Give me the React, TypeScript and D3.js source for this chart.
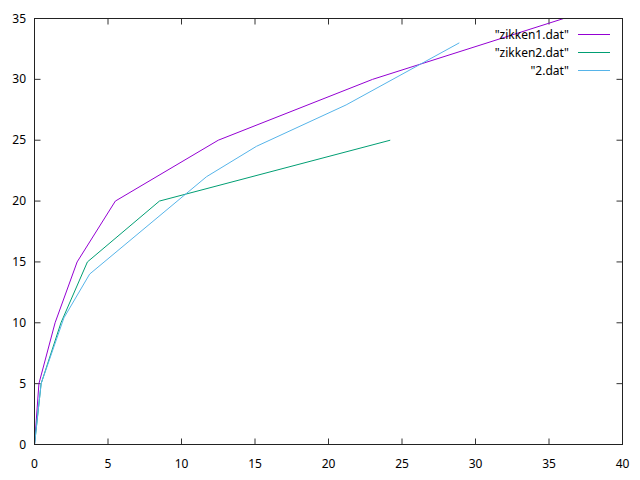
import React from "react";
import * as d3 from "d3";

const zikken1X = [0, 0.3, 1.4, 2.9, 5.5, 12.5, 23.0, 36.0];
const zikken1Y = [0, 5, 10, 15, 20, 25, 30, 35];
const zikken2X = [0, 0.45, 1.8, 3.6, 8.5, 24.2];
const zikken2Y = [0, 5, 10, 15, 20, 25];
const dat2X = [0, 0.45, 2.0, 3.75, 11.7, 15.1, 21.2, 28.9];
const dat2Y = [0, 5, 10.4, 14.0, 22.0, 24.5, 27.9, 33.0];
const seriesNames = ['"zikken1.dat"', '"zikken2.dat"', '"2.dat"'];
const colors = ["#9400d3", "#009e73", "#56b4e9"];
const xTicks = [0, 5, 10, 15, 20, 25, 30, 35, 40];
const yTicks = [0, 5, 10, 15, 20, 25, 30, 35];

export default function App() {
  const W = 640, H = 480;
  const left = 34.5, right = 622.5, top = 18.5, bottom = 444.5;
  const x = d3.scaleLinear().domain([0, 40]).range([left, right]);
  const y = d3.scaleLinear().domain([0, 35]).range([bottom, top]);
  const series = [
    zikken1X.map((v, i) => [v, zikken1Y[i]] as [number, number]),
    zikken2X.map((v, i) => [v, zikken2Y[i]] as [number, number]),
    dat2X.map((v, i) => [v, dat2Y[i]] as [number, number]),
  ];
  const line = d3.line<[number, number]>().x((d) => x(d[0])).y((d) => y(d[1]));
  const font = "'Noto Sans', sans-serif";
  const tl = 6;
  return (
    <svg width={W} height={H} style={{ position: "absolute", left: 0, top: 0, background: "#fff" }}>
      <defs>
        <clipPath id="plot">
          <rect x={left} y={top} width={right - left} height={bottom - top} />
        </clipPath>
      </defs>
      <rect width={W} height={H} fill="#fff" />
      {xTicks.map((t) => (
        <g key={"x" + t}>
          <line x1={x(t)} x2={x(t)} y1={bottom} y2={bottom - tl} stroke="#333" strokeWidth={1} />
          <line x1={x(t)} x2={x(t)} y1={top} y2={top + tl} stroke="#333" strokeWidth={1} />
          <text x={x(t)} y={468} textAnchor="middle" fontFamily={font} fontSize={12} fill="#000">{t}</text>
        </g>
      ))}
      {yTicks.map((t) => (
        <g key={"y" + t}>
          <line x1={left} x2={left + tl} y1={y(t)} y2={y(t)} stroke="#333" strokeWidth={1} />
          <line x1={right} x2={right - tl} y1={y(t)} y2={y(t)} stroke="#333" strokeWidth={1} />
          <text x={26} y={y(t) + 4} textAnchor="end" fontFamily={font} fontSize={12} fill="#000">{t}</text>
        </g>
      ))}
      <g clipPath="url(#plot)">
        {series.map((s, i) => (
          <path key={i} d={line(s) || ""} fill="none" stroke={colors[i]} strokeWidth={1} />
        ))}
      </g>
      <rect x={left} y={top} width={right - left} height={bottom - top} fill="none" stroke="#222" strokeWidth={1} />
      {seriesNames.map((n, i) => (
        <g key={n}>
          <text x={569} y={34.5 + i * 18 + 4} textAnchor="end" fontFamily={font} fontSize={12} fill="#000">{n}</text>
          <line x1={578} x2={610} y1={34.5 + i * 18} y2={34.5 + i * 18} stroke={colors[i]} strokeWidth={1} />
        </g>
      ))}
    </svg>
  );
}
